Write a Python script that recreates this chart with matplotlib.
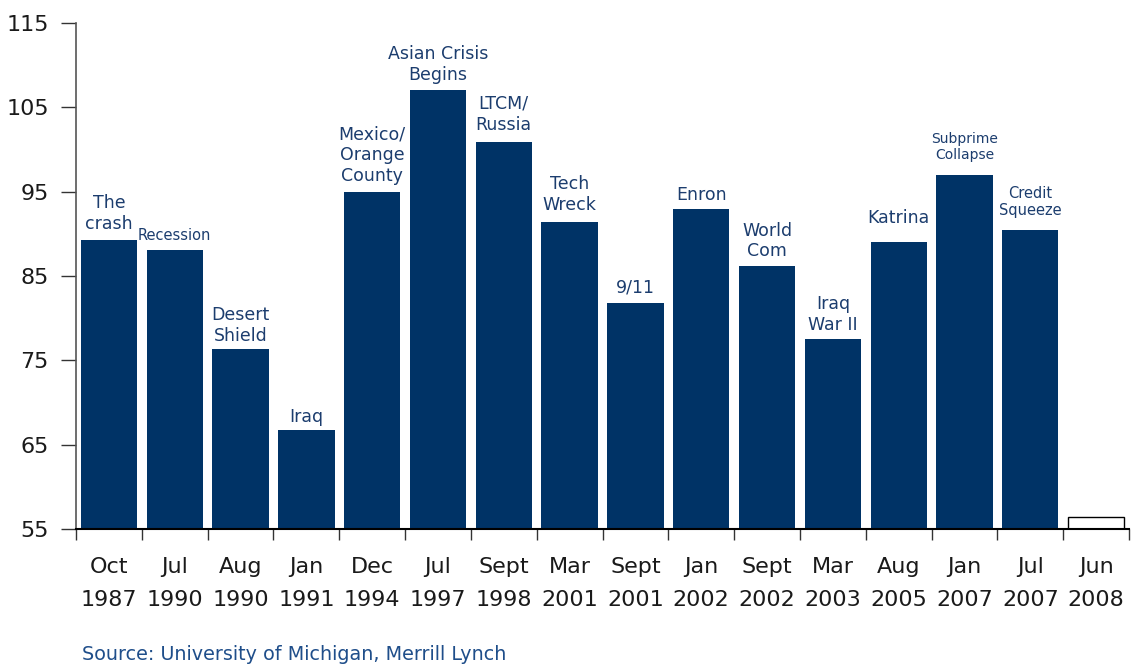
import matplotlib.pyplot as plt
import numpy as np

plt.rcParams['font.family'] = ['DejaVu Sans']

months = ['Oct', 'Jul', 'Aug', 'Jan', 'Dec', 'Jul', 'Sept', 'Mar', 'Sept',
          'Jan', 'Sept', 'Mar', 'Aug', 'Jan', 'Jul', 'Jun']
years = ['1987', '1990', '1990', '1991', '1994', '1997', '1998', '2001', '2001',
         '2002', '2002', '2003', '2005', '2007', '2007', '2008']
sentiment = [89.3, 88.1, 76.3, 66.7, 95.0, 107.0, 100.9, 91.4, 81.8,
             92.9, 86.2, 77.5, 89.0, 97.0, 90.4, 56.4]
events = ['The\ncrash', 'Recession', 'Desert\nShield', 'Iraq\nWar', 'Mexico/\nOrange\nCounty',
          'Asian Crisis\nBegins', 'LTCM/\nRussia', 'Tech\nWreck', '9/11', 'Enron',
          'World\nCom', 'Iraq\nWar II', 'Katrina', 'Subprime\nCollapse', 'Credit\nSqueeze', '']
event_size = [12.5, 10.5, 12.5, 12.5, 12.5, 12.5, 12.5, 12.5, 12.5, 12.5, 12.5, 12.5, 12.5, 10, 10.5, 12.5]
event_lift = [5, 5, 3, -12, 5, 5, 6, 6, 5, 4, 4, 4, 11, 9, 9, 5]

navy = '#003366'
label_col = '#1c3d6e'

fig = plt.figure(figsize=(11.33, 6.69), dpi=100)
ax = fig.add_axes([0.0671, 0.2093, 0.9294, 0.7563])

x = np.arange(len(sentiment))
colors = [navy] * (len(sentiment) - 1) + ['white']
edges = [navy] * (len(sentiment) - 1) + ['black']
ax.bar(x, np.array(sentiment) - 55, bottom=55, width=0.855, color=colors,
       edgecolor=edges, linewidth=[0] * (len(sentiment) - 1) + [1.0], zorder=2)

for i, (v, txt) in enumerate(zip(sentiment, events)):
    if not txt:
        continue
    ax.annotate(txt, (i, v), xytext=(0, event_lift[i]), textcoords='offset points',
                ha='center', va='bottom', fontsize=event_size[i], color=label_col,
                linespacing=1.2, zorder=1)

ax.set_xlim(-0.5, len(sentiment) - 0.5)
ax.set_ylim(55, 115)
ax.set_yticks([55, 65, 75, 85, 95, 105, 115])

# boundary ticks between bars, labels at bar centres
ax.set_xticks(np.arange(len(sentiment) + 1) - 0.5)
ax.set_xticklabels([])
ax.set_xticks(x, minor=True)
ax.set_xticklabels([m + '\n' + y for m, y in zip(months, years)], minor=True,
                   fontsize=16, linespacing=1.85, color='#1a1a1a')
ax.tick_params(axis='x', which='major', length=8, width=1, color='#333333', direction='out')
ax.tick_params(axis='x', which='minor', length=0, pad=20)
ax.tick_params(axis='y', length=11, width=1, color='#333333', pad=8.5,
               labelsize=16, labelcolor='#1a1a1a')

for side in ['top', 'right']:
    ax.spines[side].set_visible(False)
ax.spines['left'].set_color('#555555')
ax.spines['left'].set_linewidth(1.2)
ax.spines['bottom'].set_color('black')
ax.spines['bottom'].set_linewidth(1.5)

fig.text(82 / 1133, 1 - 655 / 669, 'Source: University of Michigan, Merrill Lynch',
         fontsize=13.8, color='#1f4e8a', ha='left', va='center')

fig.savefig('out.png', dpi=100)
